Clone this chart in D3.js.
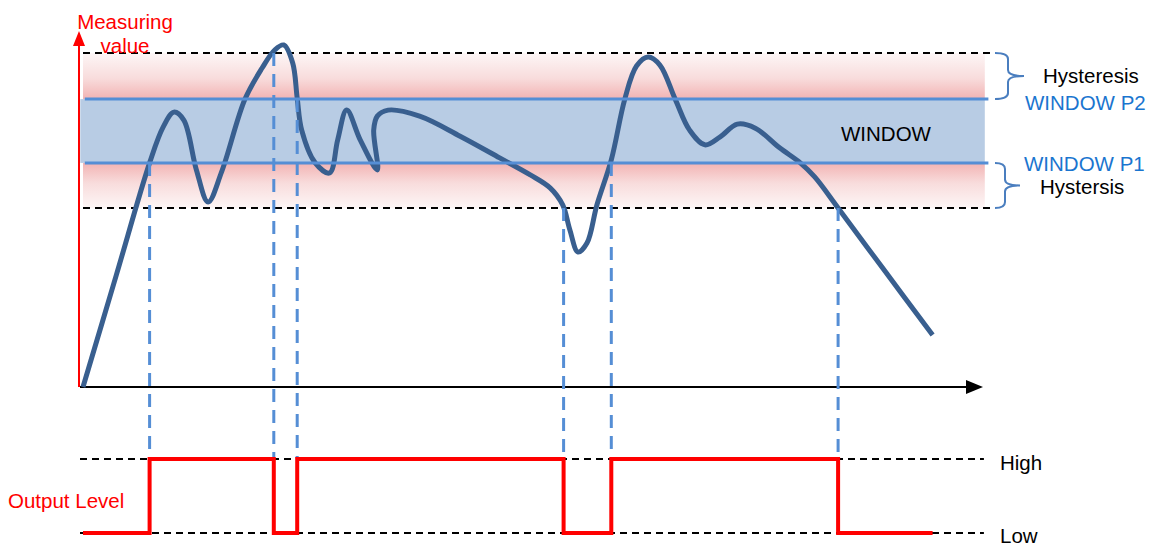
<!DOCTYPE html>
<html>
<head>
<meta charset="utf-8">
<script src="https://cdn.jsdelivr.net/npm/d3@7"></script>
<style>
  html, body { margin: 0; padding: 0; background: #fff; }
  svg { display: block; font-family: "Liberation Sans", Arial, sans-serif; }
</style>
</head>
<body>
<div id="chart"></div>
<script>
// measured value over time (x: time 0..100, y: value 0..100)
const curveTime = [0, 3.7, 7.4, 8.9, 10.1, 11.2, 12.6, 13.9, 15.4, 18.0, 19.9, 21.3, 22.3, 23.3, 23.8, 24.3,
  25.8, 27.4, 28.3, 29.3, 30.8, 32.7, 32.3, 32.7, 33.9, 37.4, 41.9, 46.3, 49.7, 51.9, 53.3, 54.1, 55.0,
  56.0, 57.1, 58.7, 60.2, 61.5, 62.8, 64.1, 65.8, 67.4, 69.1, 70.8, 72.7, 74.7, 77.4, 79.7, 81.3, 83.9,
  89.1, 94.4];
const curveValue = [0, 33.5, 67.1, 77.8, 82.3, 79.9, 65.0, 55.4, 64.4, 86.2, 95.5, 100.9, 102.4, 97.0, 86.5, 76.9,
  67.1, 64.1, 74.0, 82.9, 74.0, 65.0, 76.9, 81.1, 82.9, 81.1, 75.1, 68.6, 63.5, 59.6, 54.5, 47.0, 40.4,
  43.1, 54.5, 68.0, 86.2, 96.1, 98.8, 96.4, 86.2, 76.9, 72.5, 74.9, 78.7, 77.5, 71.6, 67.1, 62.9, 53.6,
  34.7, 15.6];

// thresholds
const lowerHyst = 53.6;
const windowP1 = 67.1;
const windowP2 = 86.2;
const upperHyst = 100;

// switching instants and the level the curve crossed there
const switchTime = [7.4, 21.2, 23.8, 53.4, 58.7, 83.9];
const switchLevel = [windowP1, upperHyst, windowP2, lowerHyst, windowP1, lowerHyst];

// output state steps
const stepTime = [0, 7.4, 21.2, 23.8, 53.4, 58.7, 83.9, 94.4];
const stepState = [0, 1, 0, 1, 0, 1, 0, 0];

const width = 1154, height = 548;
const svg = d3.select("#chart").append("svg").attr("width", width).attr("height", height);

const x = d3.scaleLinear().domain([0, 100]).range([83, 983]);
const y = d3.scaleLinear().domain([0, 100]).range([387, 53]);
const yOut = d3.scaleLinear().domain([0, 1]).range([533, 459]);

const defs = svg.append("defs");
const gUp = defs.append("linearGradient").attr("id", "pinkUp").attr("x1", 0).attr("y1", 0).attr("x2", 0).attr("y2", 1);
gUp.append("stop").attr("offset", "0%").attr("stop-color", "#fdf6f6");
gUp.append("stop").attr("offset", "55%").attr("stop-color", "#f8dcdc");
gUp.append("stop").attr("offset", "100%").attr("stop-color", "#f2b3b3");
const gDown = defs.append("linearGradient").attr("id", "pinkDown").attr("x1", 0).attr("y1", 0).attr("x2", 0).attr("y2", 1);
gDown.append("stop").attr("offset", "0%").attr("stop-color", "#f2b3b3");
gDown.append("stop").attr("offset", "45%").attr("stop-color", "#f8dcdc");
gDown.append("stop").attr("offset", "100%").attr("stop-color", "#fdf6f6");

// hysteresis bands
svg.append("rect").attr("x", x(0)).attr("width", x(100.2) - x(0))
  .attr("y", y(upperHyst)).attr("height", y(windowP2) - y(upperHyst)).attr("fill", "url(#pinkUp)");
svg.append("rect").attr("x", x(0)).attr("width", x(100.2) - x(0))
  .attr("y", y(windowP1)).attr("height", y(lowerHyst) - y(windowP1)).attr("fill", "url(#pinkDown)");
// window band
svg.append("rect").attr("x", x(-0.3)).attr("width", x(100.2) - x(-0.3))
  .attr("y", y(windowP2)).attr("height", y(windowP1) - y(windowP2)).attr("fill", "#b8cce4");

// hysteresis limits
svg.selectAll(".hyst").data([upperHyst, lowerHyst]).enter().append("line")
  .attr("x1", x(0)).attr("x2", x(101.1))
  .attr("y1", d => y(d)).attr("y2", d => y(d))
  .attr("stroke", "#000").attr("stroke-width", 2).attr("stroke-dasharray", "7,5");

// axes
svg.append("line").attr("x1", 79).attr("x2", 79).attr("y1", y(0)).attr("y2", 44)
  .attr("stroke", "#ff0000").attr("stroke-width", 2);
svg.append("path").attr("d", "M79,31 L73,46 L85,46 Z").attr("fill", "#ff0000");
svg.append("line").attr("x1", 80).attr("x2", 968).attr("y1", y(0)).attr("y2", y(0))
  .attr("stroke", "#000").attr("stroke-width", 2);
svg.append("path").attr("d", `M983,${y(0)} L966,${y(0) - 7} L966,${y(0) + 7} Z`).attr("fill", "#000");

// measured curve
const line = d3.line().x((d, i) => x(curveTime[i])).y(d => y(d)).curve(d3.curveCatmullRom.alpha(0.5));
svg.append("path").datum(curveValue).attr("d", line)
  .attr("fill", "none").attr("stroke", "#395f8f").attr("stroke-width", 5)
  .attr("stroke-linejoin", "round").attr("stroke-linecap", "butt");

// window limits
svg.selectAll(".win").data([windowP2, windowP1]).enter().append("line")
  .attr("x1", x(0.2)).attr("x2", x(100.6))
  .attr("y1", d => y(d)).attr("y2", d => y(d))
  .attr("stroke", "#558ed5").attr("stroke-width", 3);

// drop lines to output
svg.selectAll(".drop").data(switchTime).enter().append("line")
  .attr("x1", d => x(d)).attr("x2", d => x(d))
  .attr("y1", (d, i) => y(switchLevel[i])).attr("y2", yOut(1))
  .attr("stroke", "#558ed5").attr("stroke-width", 3).attr("stroke-dasharray", "13,8");

// output level reference lines
svg.selectAll(".lvl").data([1, 0]).enter().append("line")
  .attr("x1", 80).attr("x2", x(100.1))
  .attr("y1", d => yOut(d)).attr("y2", d => yOut(d))
  .attr("stroke", "#000").attr("stroke-width", 2).attr("stroke-dasharray", "7,5");

// output level step
const step = d3.line().x((d, i) => x(stepTime[i])).y(d => yOut(d)).curve(d3.curveStepAfter);
svg.append("path").datum(stepState).attr("d", step)
  .attr("fill", "none").attr("stroke", "#ff0000").attr("stroke-width", 4);

// braces
function brace(y0, y1, xs, xt) {
  const x0 = 995, r = 6, ym = (y0 + y1) / 2;
  return `M${x0},${y0} Q${xs},${y0} ${xs},${y0 + r} L${xs},${ym - r} Q${xs},${ym} ${xt},${ym}` +
    ` Q${xs},${ym} ${xs},${ym + r} L${xs},${y1 - r} Q${xs},${y1} ${x0},${y1}`;
}
svg.append("path").attr("d", brace(y(upperHyst), y(windowP2), 1008, 1024))
  .attr("fill", "none").attr("stroke", "#4a7ebf").attr("stroke-width", 2);
svg.append("path").attr("d", brace(y(windowP1), y(lowerHyst), 1005, 1020))
  .attr("fill", "none").attr("stroke", "#4a7ebf").attr("stroke-width", 2);

// labels
const labels = [
  { t: "Measuring", x: 125, y: 29, c: "#ff0000", a: "middle" },
  { t: "value", x: 125, y: 53, c: "#ff0000", a: "middle" },
  { t: "Hysteresis", x: 1043, y: 83, c: "#000", a: "start" },
  { t: "WINDOW P2", x: 1025, y: 110, c: "#1a75cf", a: "start" },
  { t: "WINDOW", x: 841, y: 141, c: "#000", a: "start" },
  { t: "WINDOW P1", x: 1024, y: 171, c: "#1a75cf", a: "start" },
  { t: "Hystersis", x: 1040, y: 194, c: "#000", a: "start" },
  { t: "Output Level", x: 8, y: 508, c: "#ff0000", a: "start" },
  { t: "High", x: 1000, y: 470, c: "#000", a: "start" },
  { t: "Low", x: 1000, y: 543, c: "#000", a: "start" }
];
svg.selectAll(".lbl").data(labels).enter().append("text")
  .attr("x", d => d.x).attr("y", d => d.y).attr("fill", d => d.c)
  .attr("text-anchor", d => d.a).attr("font-size", 20.5).text(d => d.t);
</script>
</body>
</html>
